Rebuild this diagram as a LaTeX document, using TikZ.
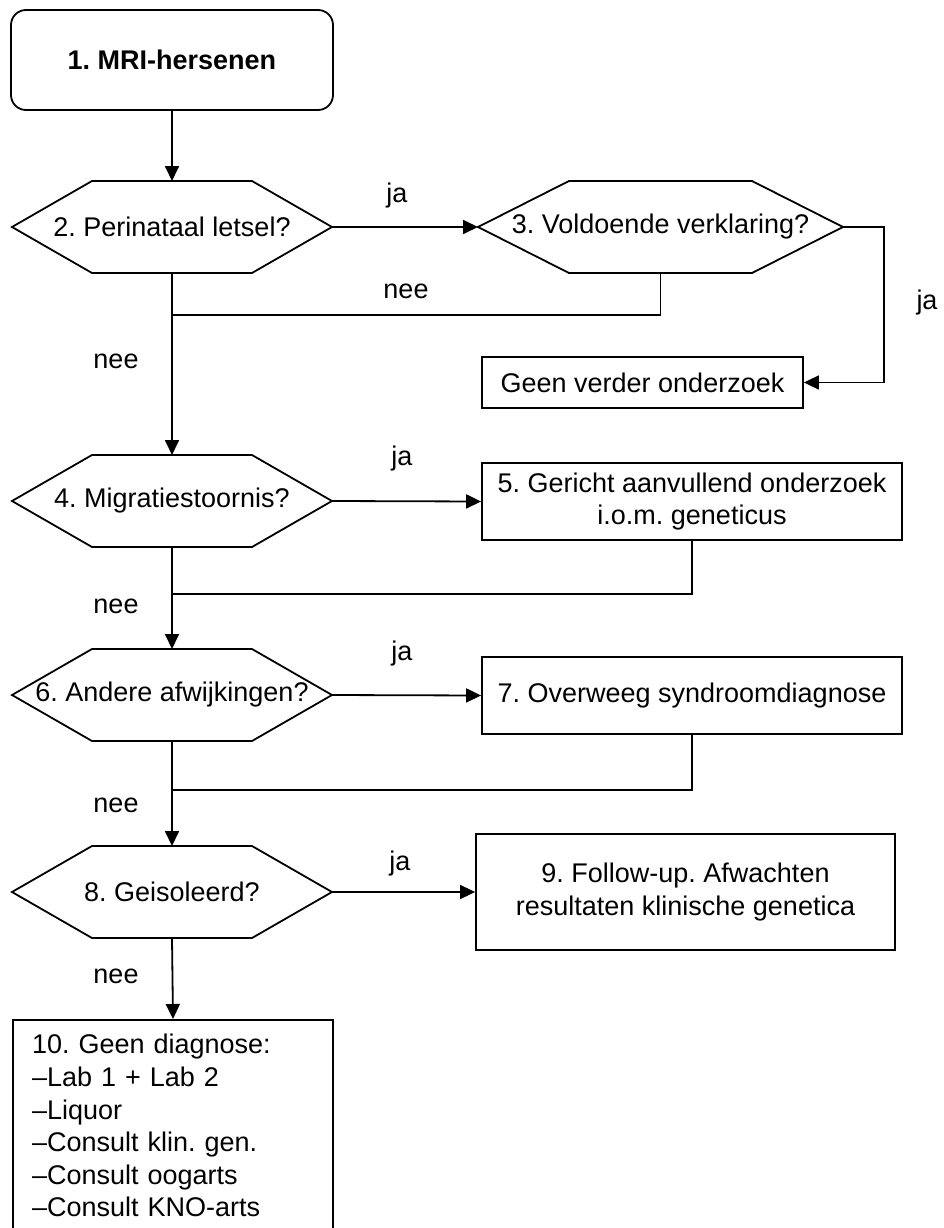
\documentclass[tikz,border=0pt]{standalone}
\usepackage{fontspec}
\setmainfont{Liberation Sans}
\usetikzlibrary{arrows.meta}
\newcommand\hexoutline[2]{\draw[ln] (#1.west) -- ([xshift=#2]#1.north west) -- ([xshift=-#2]#1.north east) -- (#1.east) -- ([xshift=-#2]#1.south east) -- ([xshift=#2]#1.south west) -- cycle;}
\begin{document}
\frenchspacing
\begin{tikzpicture}[x=1pt,y=-1pt,
  font=\fontsize{27}{32.6}\selectfont\frenchspacing,
  ln/.style={line width=1.8pt, line join=miter},
  arr/.style={ln, -{Triangle[length=15pt,width=14pt]}},
  hexnode/.style={minimum width=#1, minimum height=92pt, inner sep=0pt, outer sep=0pt},
  boxnode/.style={draw, line width=1.8pt, inner sep=0pt, align=center},
  lbl/.style={anchor=base, inner sep=0pt}]
\useasboundingbox (0,0) rectangle (943,1228);
\clip (0,0) rectangle (943,1228);

% nodes
\node[boxnode, rounded corners=15pt, minimum width=322pt, minimum height=100pt, font=\fontsize{27}{32.6}\selectfont\frenchspacing\bfseries] (b1) at (172,60) {1. MRI-hersenen};

\node[hexnode=320pt] (h2) at (172,227) {2. Perinataal letsel?};
\hexoutline{h2}{80pt}
\node[hexnode=365pt] (h3) at (660.5,227) {3. Voldoende verklaring?};
\hexoutline{h3}{91pt}
\node[boxnode, minimum width=321pt, minimum height=51pt] (gv) at (642.5,382.5) {Geen verder onderzoek};

\node[hexnode=320pt] (h4) at (172,501) {4. Migratiestoornis?};
\hexoutline{h4}{80pt}
\node[boxnode, minimum width=420pt, minimum height=77pt] (b5) at (692,501.5) {5. Gericht aanvullend onderzoek\\i.o.m. geneticus};

\node[hexnode=320pt] (h6) at (172,695) {6. Andere afwijkingen?};
\hexoutline{h6}{80pt}
\node[boxnode, minimum width=420pt, minimum height=77pt] (b7) at (692,695.5) {7. Overweeg syndroomdiagnose};

\node[hexnode=320pt] (h8) at (172,892) {8. Geisoleerd?};
\hexoutline{h8}{80pt}
\node[boxnode, minimum width=419pt, minimum height=116pt] (b9) at (685.5,892) {9. Follow-up. Afwachten\\resultaten klinische genetica};

\node[draw, line width=1.8pt, anchor=north, text width=282pt, minimum width=320pt, inner xsep=19pt, inner ysep=14.5pt, align=left] (b10) at (173,1019) {10. Geen diagnose:\\–Lab 1 + Lab 2\\–Liquor\\–Consult klin. gen.\\–Consult oogarts\\–Consult KNO-arts};

% junction coordinates
\coordinate (j1) at (172,315);
\coordinate (j2) at (172,594);
\coordinate (j3) at (172,790);
\coordinate (c1) at (884,382.5);

% connectors
\draw[arr] (b1.south) -- (h2.north);
\draw[arr] (h2.east) -- (h3.west);
\draw[ln] (h3.south) |- (j1);
\draw[arr] (h3.east) -| (c1) -- (gv.east);
\draw[arr] (h2.south) -- (h4.north);
\draw[arr] (h4.east) -- (b5.west);
\draw[ln] (b5.south) |- (j2);
\draw[arr] (h4.south) -- (h6.north);
\draw[arr] (h6.east) -- (b7.west);
\draw[ln] (b7.south) |- (j3);
\draw[arr] (h6.south) -- (h8.north);
\draw[arr] (h8.east) -- (b9.west);
\draw[arr] (h8.south) -- (b10.north);

% labels
\node[lbl] (l1) at (397,202) {ja};
\node[lbl] (l2) at (406,298) {nee};
\node[lbl] (l3) at (927,309) {ja};
\node[lbl] (l4) at (116,368) {nee};
\node[lbl] (l5) at (402,465) {ja};
\node[lbl] (l6) at (116,613) {nee};
\node[lbl] (l7) at (402,660) {ja};
\node[lbl] (l8) at (116,812) {nee};
\node[lbl] (l9) at (400,870) {ja};
\node[lbl] (l10) at (116,983) {nee};
\end{tikzpicture}
\end{document}
